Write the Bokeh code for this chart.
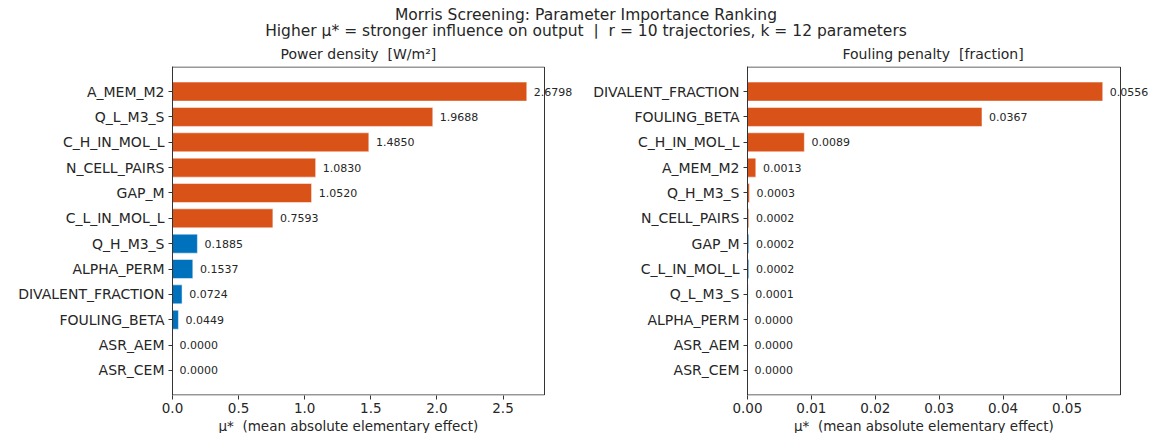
from bokeh.plotting import figure
from bokeh.models import (ColumnDataSource, FactorRange, Range1d, FixedTicker,
                          NumeralTickFormatter, Label, Div, Title)
from bokeh.layouts import row, column
from bokeh.embed import file_html
from bokeh.resources import INLINE

power_params = ["A_MEM_M2", "Q_L_M3_S", "C_H_IN_MOL_L", "N_CELL_PAIRS", "GAP_M",
                "C_L_IN_MOL_L", "Q_H_M3_S", "ALPHA_PERM", "DIVALENT_FRACTION",
                "FOULING_BETA", "ASR_AEM", "ASR_CEM"]
power_mu = [2.6798, 1.9688, 1.4850, 1.0830, 1.0520, 0.7593, 0.1885, 0.1537,
            0.0724, 0.0449, 0.0000, 0.0000]

fouling_params = ["DIVALENT_FRACTION", "FOULING_BETA", "C_H_IN_MOL_L", "A_MEM_M2",
                  "Q_H_M3_S", "N_CELL_PAIRS", "GAP_M", "C_L_IN_MOL_L", "Q_L_M3_S",
                  "ALPHA_PERM", "ASR_AEM", "ASR_CEM"]
fouling_mu = [0.0556, 0.0367, 0.0089, 0.0013, 0.0003, 0.0002, 0.0002, 0.0002,
              0.0001, 0.0000, 0.0000, 0.0000]

n_top = 6
power_ticks = [0.0, 0.5, 1.0, 1.5, 2.0, 2.5]
fouling_ticks = [0.00, 0.01, 0.02, 0.03, 0.04, 0.05]

TOP_COLOR = "#D95319"
REST_COLOR = "#0072BD"
FONT = "DejaVu Sans"
TEXT = "#262626"
EDGE = "#333333"
NB = "\u00a0"
XLABEL = "μ*" + NB + " (mean absolute elementary effect)"
PAD = 0.49


def panel(params, mu, ticks, fmt, title, title_off, width, border_left, box_w):
    colors = [TOP_COLOR if i < n_top else REST_COLOR for i in range(len(params))]
    mx = max(mu)
    n = len(params)
    frame_w = width - border_left
    box_end = mx * 1.05
    src = ColumnDataSource(dict(param=params, mu=mu, color=colors))
    yr = FactorRange(factors=list(reversed(params)), range_padding=PAD,
                     range_padding_units="absolute")
    p = figure(y_range=yr, x_range=Range1d(0, box_end * frame_w / box_w),
               width=width, height=395, output_backend="svg", toolbar_location=None,
               min_border_left=border_left, min_border_right=0,
               min_border_top=24, min_border_bottom=18)
    p.hbar(y="param", left=0, right="mu", height=0.75, fill_color="color",
           line_color="white", line_width=0.5, source=src)
    # axes box (the plotting frame is wider so that value labels are not clipped)
    eps = 0.02
    p.quad(left=[0], right=[box_end], bottom=[-PAD + eps], top=[n + PAD - eps],
           fill_color=None, line_color=EDGE, line_width=1)
    for i, v in enumerate(mu):
        p.add_layout(Label(x=v + 0.02 * mx, y=n - 1 - i + 0.5, text="%.4f" % v,
                           text_font=FONT, text_font_size="11px", text_color=TEXT,
                           text_baseline="middle", text_align="left"))

    p.title.text = title
    p.title.align = "left"
    p.title.offset = title_off
    p.title.text_font = FONT
    p.title.text_font_size = "14px"
    p.title.text_font_style = "normal"
    p.title.text_color = TEXT
    p.title.standoff = 10

    xl = Title(text=XLABEL, align="left", offset=box_w / 2 - 140,
               text_font=FONT, text_font_size="13.5px", text_font_style="normal",
               text_color=TEXT, standoff=0)
    p.add_layout(xl, "below")

    p.xgrid.visible = False
    p.ygrid.visible = False
    p.outline_line_color = None
    p.background_fill_color = "white"
    p.border_fill_color = "white"

    p.xaxis.ticker = FixedTicker(ticks=ticks)
    p.xaxis.formatter = NumeralTickFormatter(format=fmt)
    p.xaxis.axis_line_color = None

    for ax in (p.xaxis, p.yaxis):
        ax.major_label_text_font = FONT
        ax.major_label_text_color = TEXT
        ax.major_tick_in = 0
        ax.major_tick_out = 4
        ax.minor_tick_in = 0
        ax.minor_tick_out = 0
        ax.major_tick_line_color = EDGE
    p.xaxis.major_label_text_font_size = "13.5px"
    p.yaxis.major_label_text_font_size = "14px"
    p.yaxis.axis_line_color = EDGE
    p.xaxis.major_label_standoff = 3
    p.yaxis.major_label_standoff = 4
    return p


p1 = panel(power_params, power_mu, power_ticks, "0.0",
           "Power density" + NB + " [W/m²]", 108, 580, 172, 372)
p2 = panel(fouling_params, fouling_mu, fouling_ticks, "0.00",
           "Fouling penalty" + NB + " [fraction]", 95, 571, 167, 373)

head = Div(text=("Morris Screening: Parameter Importance Ranking<br>"
                 "Higher μ* = stronger influence on output&nbsp;&nbsp;|&nbsp;&nbsp;"
                 "r = 10 trajectories, k = 12 parameters"),
           width=1140, height=28,
           styles={"font-family": FONT, "font-size": "15.5px", "line-height": "16px",
                   "text-align": "center", "color": TEXT, "padding-left": "22px",
                   "padding-top": "2px", "white-space": "nowrap"})

layout = column(head, row(p1, p2))

with open("out.html", "w") as f:
    f.write(file_html(layout, INLINE))
